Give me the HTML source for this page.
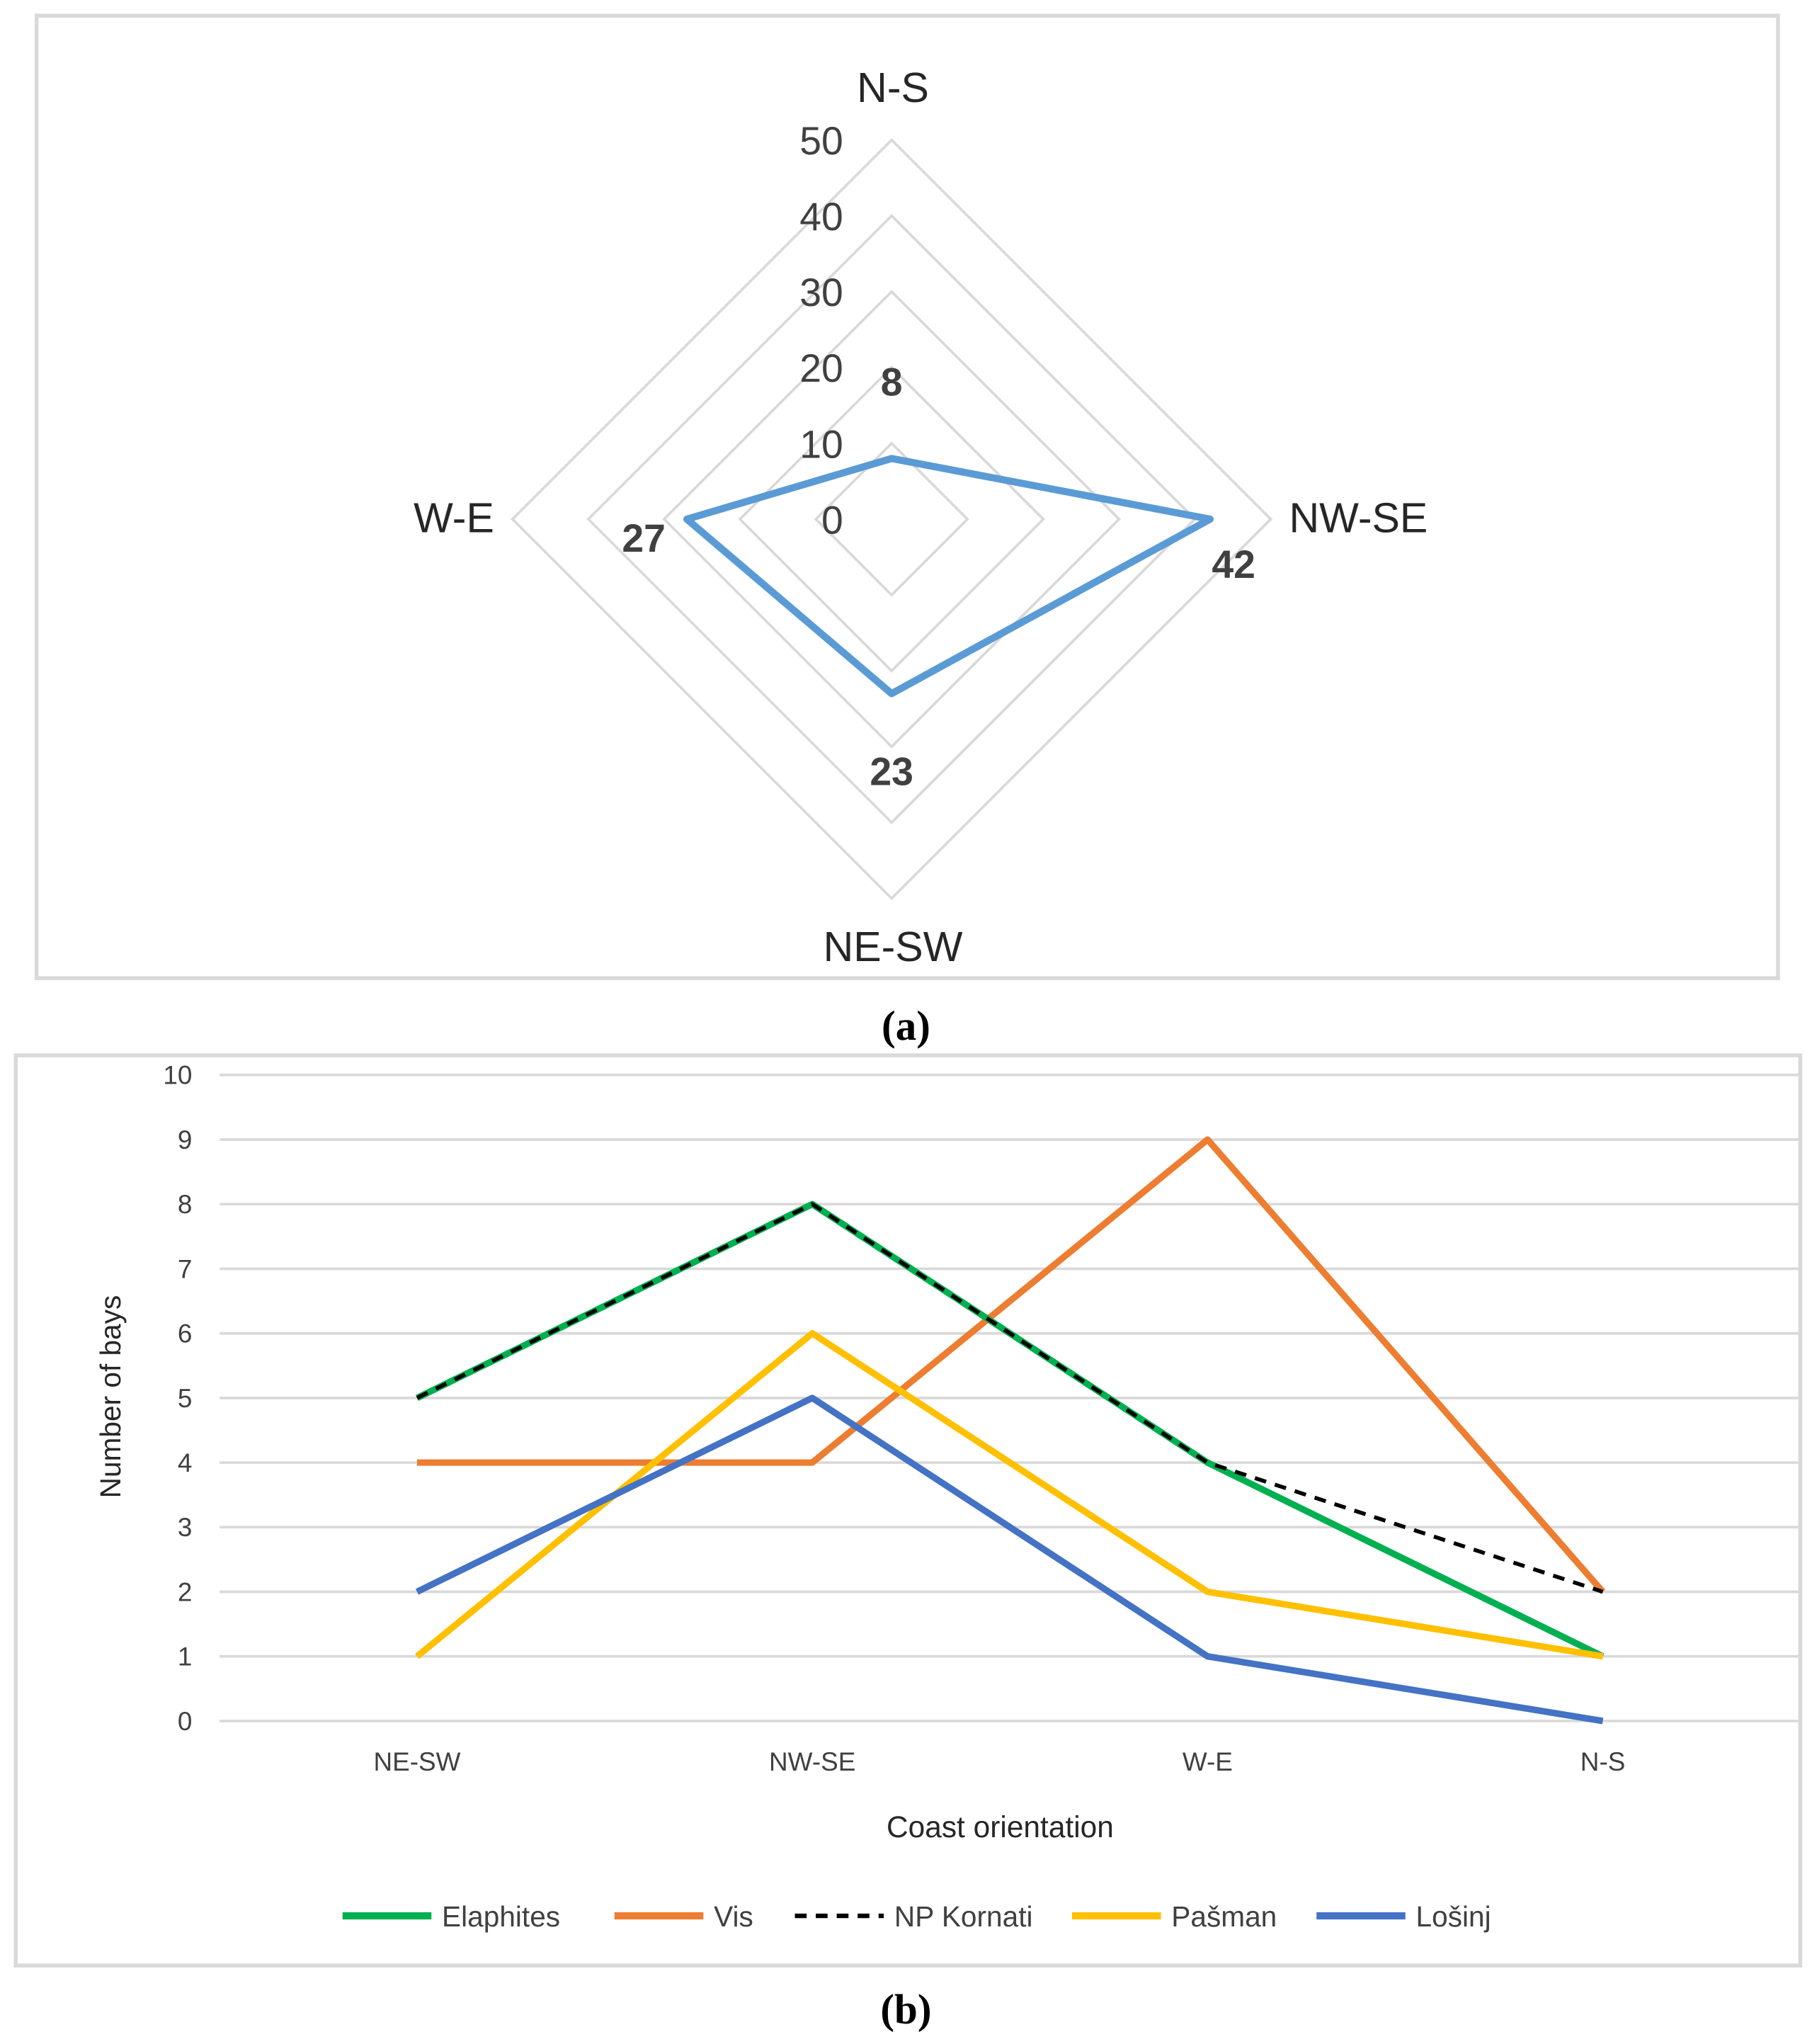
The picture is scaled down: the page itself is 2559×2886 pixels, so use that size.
<!DOCTYPE html>
<html><head><meta charset="utf-8"><style>
html,body{margin:0;padding:0;background:#fff;}
svg{display:block;}
text{font-family:"Liberation Sans",sans-serif;}
</style></head><body>
<svg id="s" width="2559" height="2886" viewBox="0 0 1386 1563" preserveAspectRatio="none" xmlns="http://www.w3.org/2000/svg">
<rect x="28" y="12" width="1332" height="736" fill="#fff" stroke="#d9d9d9" stroke-width="3"/>
<g id="radar"></g>
<text x="693" y="795" font-size="32" font-weight="bold" text-anchor="middle" style="font-family:'Liberation Serif',serif">(a)</text>
<rect x="12" y="807" width="1365" height="696" fill="#fff" stroke="#d9d9d9" stroke-width="3"/>
<g id="line"></g>
<text x="693" y="1547" font-size="32" font-weight="bold" text-anchor="middle" style="font-family:'Liberation Serif',serif">(b)</text>
</svg>
<script>
const radarAxes=["N-S","NW-SE","NE-SW","W-E"];
const radarValues=[8,42,23,27];
const radarTicks=[0,10,20,30,40,50];
const categories=["NE-SW","NW-SE","W-E","N-S"];
const seriesNames=["Elaphites","Vis","NP Kornati","Pašman","Lošinj"];
const elaphites=[5,8,4,1];
const vis=[4,4,9,2];
const kornati=[5,8,4,2];
const pasman=[1,6,2,1];
const losinj=[2,5,1,0];
const yTicks=[0,1,2,3,4,5,6,7,8,9,10];

const NS="http://www.w3.org/2000/svg";
function mk(tag,attrs,parent,txt){const e=document.createElementNS(NS,tag);for(const k in attrs)e.setAttribute(k,attrs[k]);if(txt!==undefined)e.textContent=txt;parent.appendChild(e);return e;}

const R=document.getElementById('radar');
const cx=682,cy=397,rad=290,rmax=50;
const ang=[-Math.PI/2,0,Math.PI/2,Math.PI];
function rp(i,v){const r=v/rmax*rad;return [cx+r*Math.cos(ang[i]),cy+r*Math.sin(ang[i])];}
radarTicks.forEach(t=>{if(t===0)return;
 const pts=ang.map((a,i)=>rp(i,t).join(',')).join(' ');
 const g=mk('polygon',{points:pts,fill:'none',stroke:'#d9d9d9','stroke-width':2},R);
 
 
});
radarTicks.forEach(t=>{const p=rp(0,t);
 const e=mk('text',{x:645,y:p[1]+11,'font-size':30,'text-anchor':'end',fill:'#404040'},R,String(t));
 
 
});
const axPos=[[683,78,'middle'],[986,407,'start'],[683,735,'middle'],[378,407,'end']];
radarAxes.forEach((a,i)=>{
 const e=mk('text',{x:axPos[i][0],y:axPos[i][1],'font-size':32,'text-anchor':axPos[i][2],fill:'#262626'},R,a);
 
 
});
const poly=mk('polygon',{points:radarValues.map((v,i)=>rp(i,v).join(',')).join(' '),fill:'none',stroke:'#5B9BD5','stroke-width':5.5,'stroke-linejoin':'round'},R);


const lblOff=[[0,-48],[18,45],[0,70],[-33,25]];
radarValues.forEach((v,i)=>{const p=rp(i,v);
 const e=mk('text',{x:p[0]+lblOff[i][0],y:p[1]+lblOff[i][1],'font-size':30,'font-weight':'bold','text-anchor':'middle',fill:'#404040'},R,String(v));
 
 
});

const L=document.getElementById('line');
const x0=168,x1=1377,y0=1316,y10=822;
const catX=[319,621,923,1226];
function ys(v){return y0+(y10-y0)*v/10;}
function xs(i){return catX[0]+(catX[3]-catX[0])*i/(categories.length-1);}
yTicks.forEach(t=>{
 const g=mk('line',{x1:x0,x2:x1,y1:ys(t),y2:ys(t),stroke:'#d9d9d9','stroke-width':2},L);
 
 
 const e=mk('text',{x:147,y:ys(t)+7,'font-size':20,'text-anchor':'end',fill:'#404040'},L,String(t));
 
 
});
categories.forEach((c,i)=>{
 const e=mk('text',{x:xs(i),y:1354,'font-size':20,'text-anchor':'middle',fill:'#404040'},L,c);
 
 
});
const yt=mk('text',{x:0,y:0,'font-size':22,'text-anchor':'middle',fill:'#262626',transform:'translate(92,1068) rotate(-90)'},L,'Number of bays');


const xt=mk('text',{x:765,y:1405,'font-size':23,'text-anchor':'middle',fill:'#262626'},L,'Coast orientation');


const series=[elaphites,vis,kornati,pasman,losinj];
const colors=['#00B050','#ED7D31','#000','#FFC000','#4472C4'];
const widths=[5,5,3,5,5];
const dashes=['none','none','9,7','none','none'];
const drawOrder=[1,0,2,3,4];
drawOrder.forEach(s=>{
 const p=mk('polyline',{points:series[s].map((v,i)=>xs(i)+','+ys(v)).join(' '),fill:'none',stroke:colors[s],'stroke-width':widths[s],'stroke-dasharray':dashes[s],'stroke-linejoin':'round'},L);
 
 
});
const legX=[262,470,608,820,1007];
seriesNames.forEach((n,s)=>{
 const g=mk('g',{},L);
 
 
 mk('line',{x1:legX[s],x2:legX[s]+68,y1:1465,y2:1465,stroke:colors[s],'stroke-width':widths[s]+0.5,'stroke-dasharray':dashes[s]},g);
 mk('text',{x:legX[s]+76,y:1473,'font-size':22,fill:'#404040'},g,n);
});
</script>
</body></html>
